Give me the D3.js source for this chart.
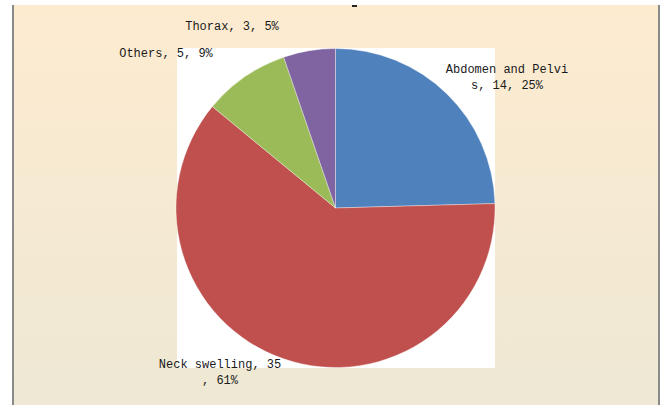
<!DOCTYPE html>
<html><head><meta charset="utf-8">
<script src="https://cdn.jsdelivr.net/npm/d3@7"></script>
<style>body{margin:0;background:#fff;}svg{display:block;}</style>
</head><body>
<svg id="c" width="665" height="405"></svg>
<script>
const categories = ["Abdomen and Pelvis", "Neck swelling", "Others", "Thorax"];
const values = [14, 35, 5, 3];
const percents = ["25%", "61%", "9%", "5%"];
const colors = ["#4F81BD", "#C0504D", "#9BBB59", "#8064A2"];
// label lines (as shown in the picture, with wrapping)
const labelLines = [
  ["Abdomen and Pelvi", "s, 14, 25%"],
  ["Neck swelling, 35", ", 61%"],
  ["Others, 5, 9%"],
  ["Thorax, 3, 5%"]
];
const labelPos = [[507, 73], [220, 368], [166, 57], [232, 30]];

const svg = d3.select("#c");
const defs = svg.append("defs");
const g = defs.append("linearGradient").attr("id","bg").attr("x1",0).attr("y1",0).attr("x2",0).attr("y2",1);
g.append("stop").attr("offset","0%").attr("stop-color","#FDEBD0");
g.append("stop").attr("offset","100%").attr("stop-color","#EEE8D4");

svg.append("rect").attr("x",13).attr("y",5).attr("width",646).attr("height",400).attr("fill","url(#bg)");
svg.append("line").attr("x1",13).attr("x2",13).attr("y1",5).attr("y2",405).attr("stroke","#8a8a8a").attr("stroke-width",2);
svg.append("line").attr("x1",659).attr("x2",659).attr("y1",5).attr("y2",405).attr("stroke","#8a8a8a").attr("stroke-width",2);
// tiny cut-off title fragment
svg.append("rect").attr("x",352).attr("y",5).attr("width",5).attr("height",2).attr("fill","#222");

// plot area
svg.append("rect").attr("x",177).attr("y",48).attr("width",318).attr("height",320).attr("fill","#fff");

const cx = 335.5, cy = 208, r = 159.5;
const pie = d3.pie().sort(null).value(d => d)(values);
const arc = d3.arc().innerRadius(0).outerRadius(r);
const pg = svg.append("g").attr("transform",`translate(${cx},${cy})`);
pg.selectAll("path").data(pie).join("path")
  .attr("d", arc)
  .attr("fill", (d,i) => colors[i])
  .attr("stroke", "rgba(255,255,255,0.5)")
  .attr("stroke-width", 0.7);

const lg = svg.append("g");
labelLines.forEach((lines, i) => {
  const t = lg.append("text")
    .attr("font-family","Liberation Mono, monospace")
    .attr("font-size",12)
    .attr("fill","#1a1a1a")
    .attr("text-anchor","middle")
    .attr("xml:space","preserve");
  lines.forEach((ln, j) => {
    t.append("tspan").attr("x", labelPos[i][0]).attr("y", labelPos[i][1] + j*16).text(ln);
  });
});
</script>
</body></html>
